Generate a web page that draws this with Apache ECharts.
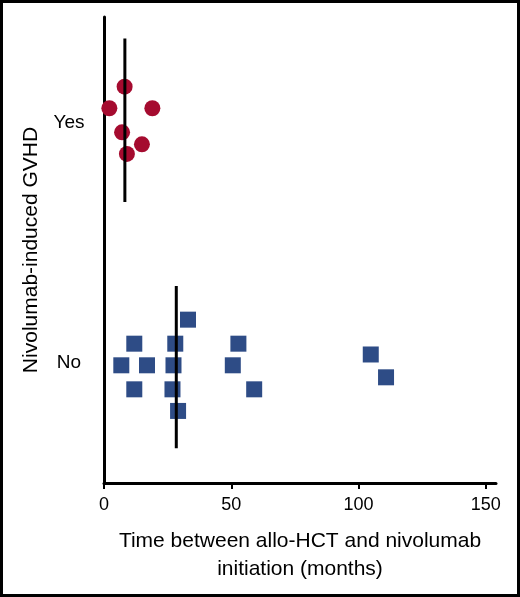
<!DOCTYPE html>
<html>
<head>
<meta charset="utf-8">
<script src="https://cdn.jsdelivr.net/npm/echarts@6/dist/echarts.min.js"></script>
<style>
    html, body { margin: 0; padding: 0; background: #fff; }
    #chart { width: 520px; height: 597px; }
</style>
</head>
<body>
<div id="chart"></div>
<script>
// months from allo-HCT to nivolumab start
var yesMonths = [8.1, 2.1, 19.0, 7.1, 14.9, 9.0];
var yesJitter = [2.15, 2.06, 2.06, 1.96, 1.91, 1.87];

var noMonths = [33.0, 11.9, 28.0, 52.8, 6.8, 16.9, 27.3, 50.6, 104.8, 110.8, 11.9, 26.9, 59.0, 29.1];
var noJitter = [1.18, 1.08, 1.08, 1.08, 0.99, 0.99, 0.99, 0.99, 1.035, 0.94, 0.89, 0.89, 0.89, 0.80];

// median lines (x position, bottom, top)
var medianYes = [8.2, 1.67, 2.35];
var medianNo = [28.4, 0.645, 1.32];

var xTicks = [0, 50, 100, 150];
var groupNames = ['No', 'Yes'];
var groupPos = [1, 2];

var FONT = "'Liberation Sans', Arial, sans-serif";

function pairs(xs, ys) {
    var out = [];
    for (var i = 0; i < xs.length; i++) {
        out.push([xs[i], ys[i]]);
    }
    return out;
}

function medianLine(m) {
    return {
        type: 'line',
        data: [[m[0], m[1]], [m[0], m[2]]],
        symbol: 'none',
        silent: true,
        lineStyle: { color: '#000', width: 3 },
        z: 3
    };
}

var chart = echarts.init(document.getElementById('chart'));

chart.setOption({
    animation: false,
    backgroundColor: '#fff',
    textStyle: { fontFamily: FONT },
    grid: { left: 104, right: 24, top: 17, bottom: 114 },
    xAxis: {
        type: 'value',
        min: 0,
        max: 154,
        name: 'Time between allo-HCT and nivolumab\ninitiation (months)',
        nameLocation: 'middle',
        nameGap: 44,
        nameTextStyle: { fontSize: 21, color: '#000', lineHeight: 28, fontFamily: FONT },
        axisLine: { show: true, lineStyle: { color: '#000', width: 3 } },
        axisTick: { show: true, customValues: xTicks, length: 6, lineStyle: { color: '#000', width: 2 } },
        axisLabel: { customValues: xTicks, fontSize: 18, color: '#000', margin: 13, fontFamily: FONT },
        splitLine: { show: false }
    },
    yAxis: {
        type: 'value',
        min: 0.5,
        max: 2.44,
        name: 'Nivolumab-induced GVHD',
        nameLocation: 'middle',
        nameGap: 62,
        nameTextStyle: { fontSize: 21, color: '#000', fontFamily: FONT },
        axisLine: { show: true, lineStyle: { color: '#000', width: 3 } },
        axisTick: { show: false },
        axisLabel: {
            customValues: groupPos,
            fontSize: 19,
            color: '#000',
            align: 'center',
            margin: 35,
            fontFamily: FONT,
            formatter: function (v) {
                return groupNames[groupPos.indexOf(v)];
            }
        },
        splitLine: { show: false }
    },
    graphic: [{
        type: 'rect',
        shape: { x: 1.5, y: 1.5, width: 517, height: 594 },
        style: { fill: 'none', stroke: '#000', lineWidth: 3 },
        silent: true
    }],
    series: [
        {
            type: 'scatter',
            data: pairs(yesMonths, yesJitter),
            symbol: 'circle',
            symbolSize: 16,
            itemStyle: { color: '#A50B2F', opacity: 1 },
            z: 2
        },
        {
            type: 'scatter',
            data: pairs(noMonths, noJitter),
            symbol: 'rect',
            symbolSize: 16,
            itemStyle: { color: '#2E4C86', opacity: 1 },
            z: 2
        },
        medianLine(medianYes),
        medianLine(medianNo)
    ]
});
</script>
</body>
</html>
